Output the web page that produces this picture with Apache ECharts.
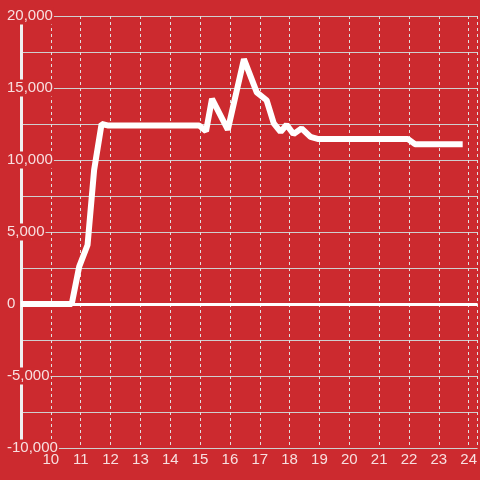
<!DOCTYPE html>
<html>
<head>
<meta charset="utf-8">
<script src="https://cdn.jsdelivr.net/npm/echarts@6/dist/echarts.min.js"></script>
<style>
	html, body { margin: 0; padding: 0; background: #cc2a2f; }
	#chart { width: 480px; height: 480px; }
</style>
</head>
<body>
<div id="chart"></div>
<script>
const bgColor = '#cc2a2f';
const labelColor = 'rgba(255,255,255,0.85)';

// time of day (hours) and value
const hours = [9.0, 10.7, 10.95, 11.23, 11.45, 11.7, 11.9, 14.97, 15.2, 15.4, 15.93, 16.47, 16.9, 17.23, 17.47, 17.7, 17.9, 18.13, 18.4, 18.7, 18.97, 21.97, 22.2, 23.8];
const values = [0, 0, 2600, 4100, 9300, 12500, 12400, 12400, 12000, 14250, 12100, 17000, 14700, 14150, 12550, 11950, 12450, 11800, 12200, 11600, 11450, 11450, 11100, 11100];

const xTicks = [10, 11, 12, 13, 14, 15, 16, 17, 18, 19, 20, 21, 22, 23, 24];
const yTicks = [-10000, -5000, 0, 5000, 10000, 15000, 20000];

const chart = echarts.init(document.getElementById('chart'));

const options = {
	backgroundColor: bgColor,
	animation: false,
	grid: {
		left: 21,
		right: 0,
		top: 16,
		bottom: 32,
		containLabel: false
	},
	xAxis: {
		type: 'value',
		min: 9,
		max: 24.3,
		interval: 1,
		axisLine: {
			show: false,
			onZero: false
		},
		axisTick: {
			show: false
		},
		axisLabel: {
			color: labelColor,
			fontSize: 15,
			fontFamily: 'Liberation Sans',
			margin: 4,
			showMinLabel: false,
			showMaxLabel: false,
			formatter: function(v) {
				return xTicks.indexOf(v) > -1 ? String(v) : '';
			}
		},
		splitLine: {
			show: true,
			lineStyle: {
				color: '#e0e0e0',
				width: 1,
				type: [3, 3]
			}
		}
	},
	yAxis: {
		type: 'value',
		min: -10000,
		max: 20000,
		interval: 2500,
		axisLine: {
			show: true,
			lineStyle: {
				color: '#f0f0f0',
				width: 3
			}
		},
		axisTick: {
			show: false
		},
		axisLabel: {
			color: labelColor,
			fontSize: 15,
			fontFamily: 'Liberation Sans',
			align: 'left',
			margin: 15,
			backgroundColor: bgColor,
			padding: [1, 1],
			formatter: function(v) {
				return yTicks.indexOf(v) > -1 ? v.toLocaleString('en-US') : '';
			}
		},
		splitLine: {
			show: true,
			lineStyle: {
				color: '#cfcfcf',
				width: 1
			}
		}
	},
	series: [{
		type: 'line',
		data: hours.map((h, i) => [h, values[i]]),
		showSymbol: false,
		lineStyle: {
			color: '#ffffff',
			width: 6
		},
		markLine: {
			silent: true,
			symbol: 'none',
			label: {
				show: false
			},
			lineStyle: {
				color: '#ffffff',
				width: 3,
				type: 'solid'
			},
			data: [{ yAxis: 0 }]
		}
	}]
};

chart.setOption(options);
</script>
</body>
</html>
